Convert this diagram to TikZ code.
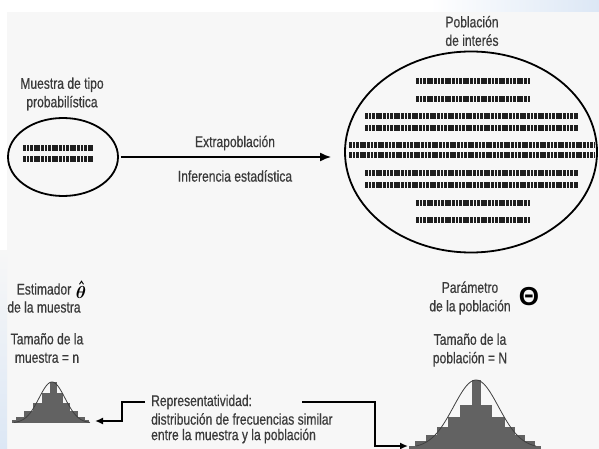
\documentclass[tikz,border=0pt]{standalone}
\usepackage{amsmath,bm}
\usepackage{fontspec}
\setmainfont{Liberation Sans}[FakeStretch=0.78,FakeBold=0.5]
\newfontfamily\symfont{Liberation Sans}
\usetikzlibrary{shapes.geometric,arrows.meta}
\definecolor{txt}{HTML}{3A3A3A}
\definecolor{bgg}{HTML}{F7F7F7}
\definecolor{bluebg}{HTML}{DCE7F5}
\definecolor{histc}{HTML}{626262}
\begin{document}
\begin{tikzpicture}[x=1pt,y=-1pt,
  lbl/.style={text=txt, font=\fontsize{15.5}{18.5}\selectfont, align=center, inner sep=0pt},
  ring/.style={draw=black, line width=1.8pt, ellipse, inner sep=0pt},
  people/.style={line width=6.5pt, dash pattern=on 2.7pt off 0.9pt, draw=black!88},
  conn/.style={line width=1.8pt, draw=black},
  histbar/.style={fill=histc},
  bell/.style={draw=black!75, line width=0.8pt}]
\useasboundingbox (0,0) rectangle (599,449);
% background
\fill[white] (0,0) rectangle (599,449);
\fill[bgg] (7,12) rectangle (599,449);
\shade[left color=white, right color=bluebg] (430,0) rectangle (599,12);
\shade[top color=bgg, bottom color=bluebg] (0,250) rectangle (7,449);
% top: sample and population
\node[ring, minimum width=110pt, minimum height=78pt] (sample) at (63,157) {};
\node[ring, minimum width=252pt, minimum height=201pt] (pop) at (471,152) {};
\node[lbl] (sampleT) at (62,94) {Muestra de tipo\\probabilística};
\node[lbl] (popT) at (472,31) {Población\\de interés};
\draw[conn, -{Latex[length=11pt,width=9pt]}, shorten <=2pt, shorten >=13pt]
  (sample.east) -- (sample.east -| pop.west);
\node[lbl] (extra) at (235,143) {Extrapoblación};
\node[lbl] (infer) at (235,176) {Inferencia estadística};
% people rows
\draw[people] (23,148) -- (93,148);
\draw[people] (23,159) -- (93,159);
\draw[people] (416,81) -- (530,81);
\draw[people] (416,99) -- (530,99);
\draw[people] (365,116) -- (578,116);
\draw[people] (365,128) -- (578,128);
\draw[people] (349,145) -- (595,145);
\draw[people] (349,155) -- (595,155);
\draw[people] (365,173) -- (578,173);
\draw[people] (365,185) -- (578,185);
\draw[people] (416,203) -- (530,203);
\draw[people] (416,220) -- (530,220);
% bottom labels
\node[lbl] (est1) at (44,289) {Estimador};
\node[lbl] (est2) at (44,307) {de la muestra};
\node[inner sep=0pt, font=\fontsize{17}{19}\selectfont] (thetahat) at (81,292) {$\bm{\theta}$};
\draw[line width=0.9pt] ([xshift=-1.5pt,yshift=1.5pt]thetahat.north) -- ++(2,-3) -- ++(2,3);
\node[lbl] (tamn) at (47,348) {Tamaño de la\\muestra = n};
\node[lbl] (param) at (470,298) {Parámetro\\de la población};
\node[inner sep=0pt, font=\fontsize{26}{28}\selectfont\symfont\bfseries] (Theta) at (529,297) {Θ};
\node[lbl] (tamN) at (470,350) {Tamaño de la\\población = N};
% left histogram
\foreach \a/\b/\t in {50/57/382, 42/63/393, 33/70/403, 24/78/411, 16/85/417, 12/89/420}
  \fill[histbar] (\a,\t) rectangle (\b,423);
\draw[bell] plot[domain=14:90, samples=60, smooth] (\x, {423-41*exp(-((\x-52)/13)^2/2)});
% right histogram
\foreach \a/\b/\t in {472/481/380, 460/492/405, 448/505/417, 437/515/427, 426/525/435, 415/535/441, 409/541/446}
  \fill[histbar] (\a,\t) rectangle (\b,449);
\draw[bell] plot[domain=416:536, samples=80, smooth] (\x, {448-68*exp(-((\x-476)/22.5)^2/2)});
% representativity
\node[lbl, anchor=west] (r1) at (151,402) {Representatividad:};
\node[lbl, anchor=west] (r2) at (151,419) {distribución de frecuencias similar};
\node[lbl, anchor=west] (r3) at (151,436) {entre la muestra y la población};
\coordinate (hL) at (95,421);
\coordinate (hR) at (408,446);
\coordinate (rs) at (302,402);
\coordinate (rc) at (375,402);
\draw[conn, -{Latex[length=8pt,width=7pt]}] ([xshift=-6pt]r1.west) -- ++(-23,0) |- (hL);
\draw[conn, -{Latex[length=8pt,width=7pt]}] (rs) -- (rc) |- (hR);
\end{tikzpicture}
\end{document}
